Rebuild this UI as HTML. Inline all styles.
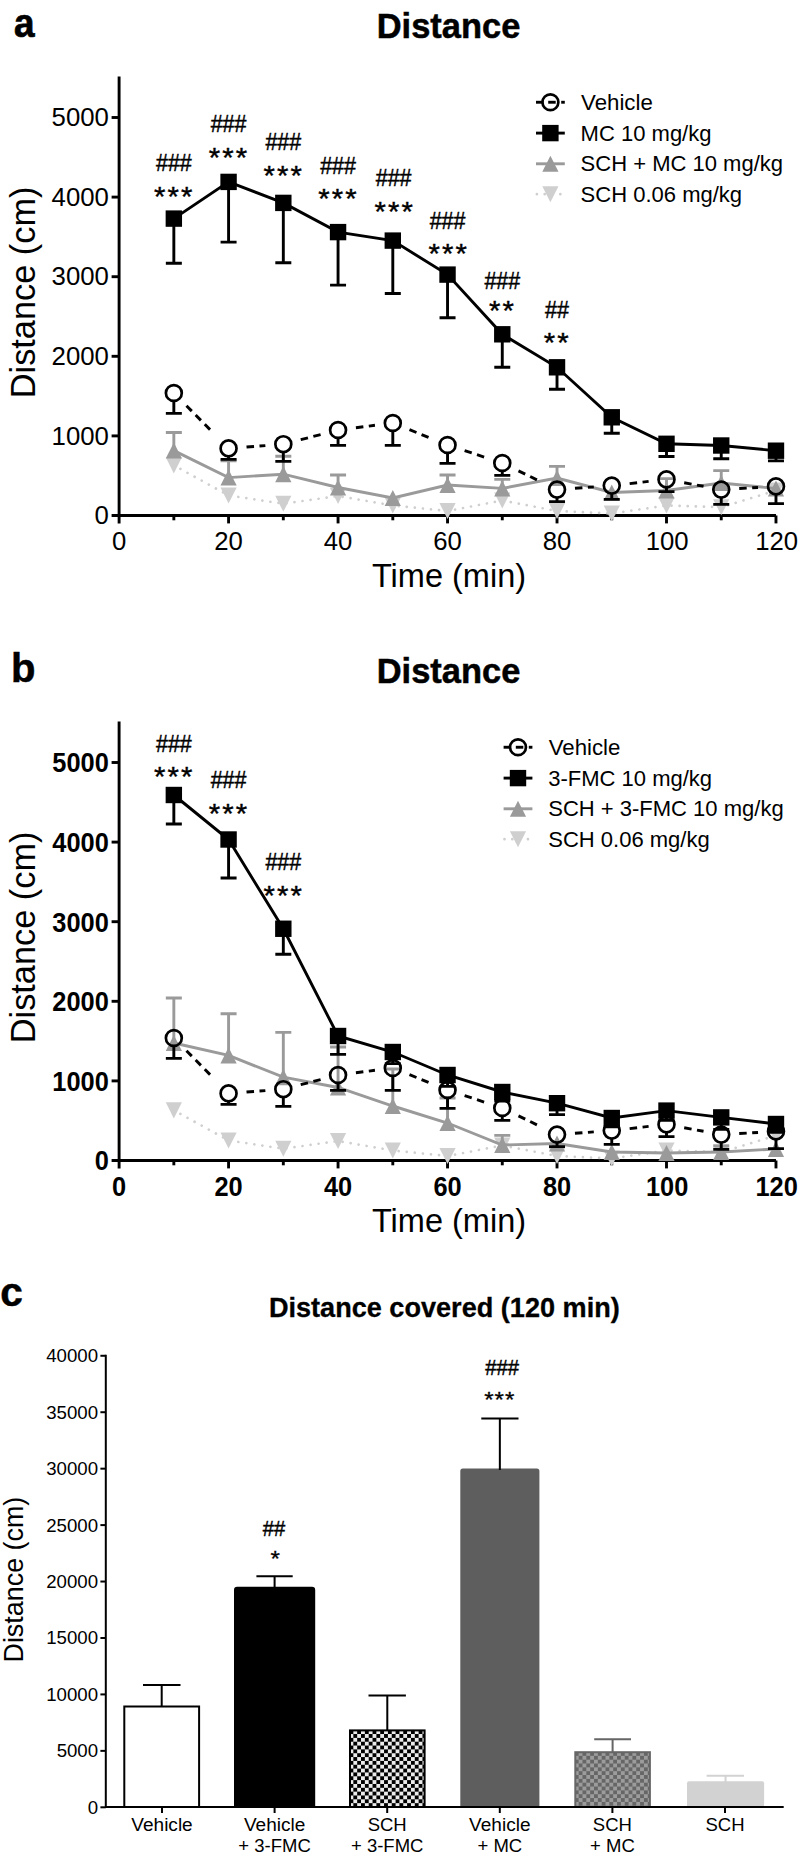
<!DOCTYPE html>
<html lang="en">
<head>
<meta charset="utf-8">
<title>Distance</title>
<style>
html,body{margin:0;padding:0;background:#fff;}
body{width:799px;height:1858px;overflow:hidden;}
svg{display:block;}
text{font-family:"Liberation Sans", Arial, Helvetica, sans-serif;}
</style>
</head>
<body>
<svg width="799" height="1858" viewBox="0 0 799 1858" font-family='"Liberation Sans", Arial, Helvetica, sans-serif' fill="#000">
<defs>
<pattern id="chk" width="7.68" height="7.68" patternUnits="userSpaceOnUse" x="349.5" y="1730.2">
<rect width="7.68" height="7.68" fill="#ebebeb"/><rect x="0" y="0" width="3.84" height="3.84" fill="#000"/><rect x="3.84" y="3.84" width="3.84" height="3.84" fill="#000"/>
</pattern>
<pattern id="chkg" width="7.68" height="7.68" patternUnits="userSpaceOnUse" x="574.8" y="1752">
<rect width="7.68" height="7.68" fill="#9c9c9c"/><rect x="0" y="0" width="3.84" height="3.84" fill="#666"/><rect x="3.84" y="3.84" width="3.84" height="3.84" fill="#666"/>
</pattern>
</defs>
<rect width="799" height="1858" fill="#fff"/>
<text transform="translate(14.00,36.90) scale(0.91,1)" font-weight="bold" font-size="40.6" stroke="#000" stroke-width="0.7">a</text>
<text transform="translate(10.90,681.90)" font-weight="bold" font-size="40.1" stroke="#000" stroke-width="0.5">b</text>
<text transform="translate(0.30,1306.15) scale(0.98,1)" font-weight="bold" font-size="41.4" stroke="#000" stroke-width="0.5">c</text>
<g id="panel-a">
<path d="M119.10,76.50V523.40M111.60,515.50H775.98" stroke="#000" stroke-width="2.9" fill="none"/>
<path d="M111.60,435.90H119.10" stroke="#000" stroke-width="2.9"/>
<path d="M111.60,356.30H119.10" stroke="#000" stroke-width="2.9"/>
<path d="M111.60,276.70H119.10" stroke="#000" stroke-width="2.9"/>
<path d="M111.60,197.10H119.10" stroke="#000" stroke-width="2.9"/>
<path d="M111.60,117.50H119.10" stroke="#000" stroke-width="2.9"/>
<path d="M173.84,515.50V520.30" stroke="#000" stroke-width="2.9"/>
<path d="M228.58,515.50V523.40" stroke="#000" stroke-width="2.9"/>
<path d="M283.32,515.50V520.30" stroke="#000" stroke-width="2.9"/>
<path d="M338.06,515.50V523.40" stroke="#000" stroke-width="2.9"/>
<path d="M392.80,515.50V520.30" stroke="#000" stroke-width="2.9"/>
<path d="M447.54,515.50V523.40" stroke="#000" stroke-width="2.9"/>
<path d="M502.28,515.50V520.30" stroke="#000" stroke-width="2.9"/>
<path d="M557.02,515.50V523.40" stroke="#000" stroke-width="2.9"/>
<path d="M611.76,515.50V520.30" stroke="#000" stroke-width="2.9"/>
<path d="M666.50,515.50V523.40" stroke="#000" stroke-width="2.9"/>
<path d="M721.24,515.50V520.30" stroke="#000" stroke-width="2.9"/>
<path d="M775.98,515.50V523.40" stroke="#000" stroke-width="2.9"/>
<polyline points="173.84,465.30 228.58,495.50 283.32,503.70 338.06,496.00 392.80,505.50 447.54,511.00 502.28,500.50 557.02,511.00 611.76,513.50 666.50,505.50 721.24,507.20 775.98,490.50" fill="none" stroke="#cfcfcf" stroke-width="2.7" stroke-linecap="round" stroke-dasharray="0.01 8.1" stroke-dashoffset="-7.5"/>
<polygon points="165.74,457.30 181.94,457.30 173.84,473.40" fill="#cfcfcf"/>
<polygon points="220.48,487.50 236.68,487.50 228.58,503.60" fill="#cfcfcf"/>
<polygon points="275.22,495.70 291.42,495.70 283.32,511.80" fill="#cfcfcf"/>
<polygon points="329.96,488.00 346.16,488.00 338.06,504.10" fill="#cfcfcf"/>
<polygon points="384.70,497.50 400.90,497.50 392.80,513.60" fill="#cfcfcf"/>
<polygon points="439.44,503.00 455.64,503.00 447.54,519.10" fill="#cfcfcf"/>
<polygon points="494.18,492.50 510.38,492.50 502.28,508.60" fill="#cfcfcf"/>
<polygon points="548.92,503.00 565.12,503.00 557.02,519.10" fill="#cfcfcf"/>
<polygon points="603.66,505.50 619.86,505.50 611.76,521.60" fill="#cfcfcf"/>
<polygon points="658.40,497.50 674.60,497.50 666.50,513.60" fill="#cfcfcf"/>
<polygon points="713.14,499.20 729.34,499.20 721.24,515.30" fill="#cfcfcf"/>
<polygon points="767.88,482.50 784.08,482.50 775.98,498.60" fill="#cfcfcf"/>
<path d="M173.84,450.60V432.50M165.84,432.50H181.84" stroke="#9a9a9a" stroke-width="2.9" fill="none"/>
<path d="M228.58,477.60V460.75M220.58,460.75H236.58" stroke="#9a9a9a" stroke-width="2.9" fill="none"/>
<path d="M283.32,474.20V456.20M275.32,456.20H291.32" stroke="#9a9a9a" stroke-width="2.9" fill="none"/>
<path d="M338.06,487.50V475.00M330.06,475.00H346.06" stroke="#9a9a9a" stroke-width="2.9" fill="none"/>
<path d="M447.54,485.00V475.00M439.54,475.00H455.54" stroke="#9a9a9a" stroke-width="2.9" fill="none"/>
<path d="M502.28,488.40V479.40M494.28,479.40H510.28" stroke="#9a9a9a" stroke-width="2.9" fill="none"/>
<path d="M557.02,478.00V466.40M549.02,466.40H565.02" stroke="#9a9a9a" stroke-width="2.9" fill="none"/>
<path d="M666.50,490.50V478.60M658.50,478.60H674.50" stroke="#9a9a9a" stroke-width="2.9" fill="none"/>
<path d="M721.24,483.00V470.60M713.24,470.60H729.24" stroke="#9a9a9a" stroke-width="2.9" fill="none"/>
<polyline points="173.84,450.60 228.58,477.60 283.32,474.20 338.06,487.50 392.80,498.00 447.54,485.00 502.28,488.40 557.02,478.00 611.76,492.50 666.50,490.50 721.24,483.00 775.98,488.50" fill="none" stroke="#9a9a9a" stroke-width="2.9"/>
<polygon points="165.74,458.60 181.94,458.60 173.84,442.50" fill="#9a9a9a"/>
<polygon points="220.48,485.60 236.68,485.60 228.58,469.50" fill="#9a9a9a"/>
<polygon points="275.22,482.20 291.42,482.20 283.32,466.10" fill="#9a9a9a"/>
<polygon points="329.96,495.50 346.16,495.50 338.06,479.40" fill="#9a9a9a"/>
<polygon points="384.70,506.00 400.90,506.00 392.80,489.90" fill="#9a9a9a"/>
<polygon points="439.44,493.00 455.64,493.00 447.54,476.90" fill="#9a9a9a"/>
<polygon points="494.18,496.40 510.38,496.40 502.28,480.30" fill="#9a9a9a"/>
<polygon points="548.92,486.00 565.12,486.00 557.02,469.90" fill="#9a9a9a"/>
<polygon points="603.66,500.50 619.86,500.50 611.76,484.40" fill="#9a9a9a"/>
<polygon points="658.40,498.50 674.60,498.50 666.50,482.40" fill="#9a9a9a"/>
<polygon points="713.14,491.00 729.34,491.00 721.24,474.90" fill="#9a9a9a"/>
<polygon points="767.88,496.50 784.08,496.50 775.98,480.40" fill="#9a9a9a"/>
<path d="M173.84,218.60V263.30M165.84,263.30H181.84" stroke="#000" stroke-width="2.9" fill="none"/>
<path d="M228.58,181.90V242.10M220.58,242.10H236.58" stroke="#000" stroke-width="2.9" fill="none"/>
<path d="M283.32,202.90V262.80M275.32,262.80H291.32" stroke="#000" stroke-width="2.9" fill="none"/>
<path d="M338.06,232.10V285.10M330.06,285.10H346.06" stroke="#000" stroke-width="2.9" fill="none"/>
<path d="M392.80,240.60V293.50M384.80,293.50H400.80" stroke="#000" stroke-width="2.9" fill="none"/>
<path d="M447.54,274.60V317.80M439.54,317.80H455.54" stroke="#000" stroke-width="2.9" fill="none"/>
<path d="M502.28,334.30V367.30M494.28,367.30H510.28" stroke="#000" stroke-width="2.9" fill="none"/>
<path d="M557.02,367.30V389.30M549.02,389.30H565.02" stroke="#000" stroke-width="2.9" fill="none"/>
<path d="M611.76,417.30V433.30M603.76,433.30H619.76" stroke="#000" stroke-width="2.9" fill="none"/>
<path d="M666.50,443.80V456.50M658.50,456.50H674.50" stroke="#000" stroke-width="2.9" fill="none"/>
<path d="M721.24,445.50V458.70M713.24,458.70H729.24" stroke="#000" stroke-width="2.9" fill="none"/>
<path d="M775.98,450.70V460.90M767.98,460.90H783.98" stroke="#000" stroke-width="2.9" fill="none"/>
<polyline points="173.84,218.60 228.58,181.90 283.32,202.90 338.06,232.10 392.80,240.60 447.54,274.60 502.28,334.30 557.02,367.30 611.76,417.30 666.50,443.80 721.24,445.50 775.98,450.70" fill="none" stroke="#000" stroke-width="2.9"/>
<rect x="165.64" y="210.40" width="16.4" height="16.4" fill="#000"/>
<rect x="220.38" y="173.70" width="16.4" height="16.4" fill="#000"/>
<rect x="275.12" y="194.70" width="16.4" height="16.4" fill="#000"/>
<rect x="329.86" y="223.90" width="16.4" height="16.4" fill="#000"/>
<rect x="384.60" y="232.40" width="16.4" height="16.4" fill="#000"/>
<rect x="439.34" y="266.40" width="16.4" height="16.4" fill="#000"/>
<rect x="494.08" y="326.10" width="16.4" height="16.4" fill="#000"/>
<rect x="548.82" y="359.10" width="16.4" height="16.4" fill="#000"/>
<rect x="603.56" y="409.10" width="16.4" height="16.4" fill="#000"/>
<rect x="658.30" y="435.60" width="16.4" height="16.4" fill="#000"/>
<rect x="713.04" y="437.30" width="16.4" height="16.4" fill="#000"/>
<rect x="767.78" y="442.50" width="16.4" height="16.4" fill="#000"/>
<path d="M186.49,405.80L191.76,411.14" stroke="#000" stroke-width="2.9"/>
<path d="M195.63,415.05L200.90,420.39" stroke="#000" stroke-width="2.9"/>
<path d="M204.77,424.30L210.04,429.63" stroke="#000" stroke-width="2.9"/>
<path d="M246.53,447.02L254.01,446.45" stroke="#000" stroke-width="2.9"/>
<path d="M259.49,446.03L265.37,445.58" stroke="#000" stroke-width="2.9"/>
<path d="M300.74,439.68L308.00,437.80" stroke="#000" stroke-width="2.9"/>
<path d="M313.33,436.42L320.59,434.53" stroke="#000" stroke-width="2.9"/>
<path d="M355.91,427.72L363.35,426.77" stroke="#000" stroke-width="2.9"/>
<path d="M368.81,426.07L374.95,425.28" stroke="#000" stroke-width="2.9"/>
<path d="M409.50,429.71L416.46,432.51" stroke="#000" stroke-width="2.9"/>
<path d="M421.56,434.56L428.52,437.36" stroke="#000" stroke-width="2.9"/>
<path d="M464.64,450.62L471.76,452.97" stroke="#000" stroke-width="2.9"/>
<path d="M476.99,454.68L484.11,457.03" stroke="#000" stroke-width="2.9"/>
<path d="M518.47,470.87L525.22,474.15" stroke="#000" stroke-width="2.9"/>
<path d="M530.16,476.55L536.91,479.83" stroke="#000" stroke-width="2.9"/>
<path d="M574.97,488.29L582.45,487.74" stroke="#000" stroke-width="2.9"/>
<path d="M587.94,487.34L593.81,486.91" stroke="#000" stroke-width="2.9"/>
<path d="M629.65,483.57L637.10,482.73" stroke="#000" stroke-width="2.9"/>
<path d="M642.56,482.11L648.61,481.43" stroke="#000" stroke-width="2.9"/>
<path d="M684.20,482.70L691.57,484.07" stroke="#000" stroke-width="2.9"/>
<path d="M696.98,485.08L703.54,486.30" stroke="#000" stroke-width="2.9"/>
<path d="M739.21,488.55L746.70,488.11" stroke="#000" stroke-width="2.9"/>
<path d="M752.19,487.79L758.01,487.45" stroke="#000" stroke-width="2.9"/>
<path d="M173.84,401.00V413.40M165.84,413.40H181.84" stroke="#000" stroke-width="2.9" fill="none"/>
<circle cx="173.84" cy="393.00" r="7.95" fill="none" stroke="#000" stroke-width="2.7"/>
<path d="M228.58,456.40V459.40M220.58,459.40H236.58" stroke="#000" stroke-width="2.9" fill="none"/>
<circle cx="228.58" cy="448.40" r="7.95" fill="none" stroke="#000" stroke-width="2.7"/>
<path d="M283.32,452.20V461.40M275.32,461.40H291.32" stroke="#000" stroke-width="2.9" fill="none"/>
<circle cx="283.32" cy="444.20" r="7.95" fill="none" stroke="#000" stroke-width="2.7"/>
<path d="M338.06,438.00V445.40M330.06,445.40H346.06" stroke="#000" stroke-width="2.9" fill="none"/>
<circle cx="338.06" cy="430.00" r="7.95" fill="none" stroke="#000" stroke-width="2.7"/>
<path d="M392.80,431.00V445.40M384.80,445.40H400.80" stroke="#000" stroke-width="2.9" fill="none"/>
<circle cx="392.80" cy="423.00" r="7.95" fill="none" stroke="#000" stroke-width="2.7"/>
<path d="M447.54,453.00V463.40M439.54,463.40H455.54" stroke="#000" stroke-width="2.9" fill="none"/>
<circle cx="447.54" cy="445.00" r="7.95" fill="none" stroke="#000" stroke-width="2.7"/>
<path d="M502.28,471.00V475.40M494.28,475.40H510.28" stroke="#000" stroke-width="2.9" fill="none"/>
<circle cx="502.28" cy="463.00" r="7.95" fill="none" stroke="#000" stroke-width="2.7"/>
<path d="M557.02,497.60V501.60M549.02,501.60H565.02" stroke="#000" stroke-width="2.9" fill="none"/>
<circle cx="557.02" cy="489.60" r="7.95" fill="none" stroke="#000" stroke-width="2.7"/>
<path d="M611.76,493.60V499.40M603.76,499.40H619.76" stroke="#000" stroke-width="2.9" fill="none"/>
<circle cx="611.76" cy="485.60" r="7.95" fill="none" stroke="#000" stroke-width="2.7"/>
<path d="M666.50,487.40V491.60M658.50,491.60H674.50" stroke="#000" stroke-width="2.9" fill="none"/>
<circle cx="666.50" cy="479.40" r="7.95" fill="none" stroke="#000" stroke-width="2.7"/>
<path d="M721.24,497.60V504.40M713.24,504.40H729.24" stroke="#000" stroke-width="2.9" fill="none"/>
<circle cx="721.24" cy="489.60" r="7.95" fill="none" stroke="#000" stroke-width="2.7"/>
<path d="M775.98,494.40V503.60M767.98,503.60H783.98" stroke="#000" stroke-width="2.9" fill="none"/>
<circle cx="775.98" cy="486.40" r="7.95" fill="none" stroke="#000" stroke-width="2.7"/>
<text transform="translate(108.90,524.10) scale(0.965,1)" text-anchor="end" font-size="26.7">0</text>
<text transform="translate(108.90,444.50) scale(0.965,1)" text-anchor="end" font-size="26.7">1000</text>
<text transform="translate(108.90,364.90) scale(0.965,1)" text-anchor="end" font-size="26.7">2000</text>
<text transform="translate(108.90,285.30) scale(0.965,1)" text-anchor="end" font-size="26.7">3000</text>
<text transform="translate(108.90,205.70) scale(0.965,1)" text-anchor="end" font-size="26.7">4000</text>
<text transform="translate(108.90,126.10) scale(0.965,1)" text-anchor="end" font-size="26.7">5000</text>
<text transform="translate(119.10,549.80) scale(0.968,1)" text-anchor="middle" font-size="26.6">0</text>
<text transform="translate(228.58,549.80) scale(0.968,1)" text-anchor="middle" font-size="26.6">20</text>
<text transform="translate(338.06,549.80) scale(0.968,1)" text-anchor="middle" font-size="26.6">40</text>
<text transform="translate(447.54,549.80) scale(0.968,1)" text-anchor="middle" font-size="26.6">60</text>
<text transform="translate(557.02,549.80) scale(0.968,1)" text-anchor="middle" font-size="26.6">80</text>
<text transform="translate(667.10,549.80) scale(0.968,1)" text-anchor="middle" font-size="26.6">100</text>
<text transform="translate(776.58,549.80) scale(0.968,1)" text-anchor="middle" font-size="26.6">120</text>
<text transform="translate(449.00,587.00)" text-anchor="middle" font-size="32.5">Time (min)</text>
<text transform="translate(35.20,292.40) rotate(-90) scale(0.992,1)" text-anchor="middle" font-size="34.6">Distance (cm)</text>
<text transform="translate(448.50,37.80) scale(0.985,1)" text-anchor="middle" font-weight="bold" font-size="35" stroke="#000" stroke-width="0.5">Distance</text>
<text transform="translate(173.84,171.45) scale(0.895,1)" text-anchor="middle" font-size="24" stroke="#000" stroke-width="0.45">###</text>
<text transform="translate(174.19,206.40) scale(1.07,1)" text-anchor="middle" font-size="27.3" stroke="#000" stroke-width="0.4" letter-spacing="2">***</text>
<text transform="translate(228.58,132.20) scale(0.895,1)" text-anchor="middle" font-size="24" stroke="#000" stroke-width="0.45">###</text>
<text transform="translate(228.93,166.65) scale(1.07,1)" text-anchor="middle" font-size="27.3" stroke="#000" stroke-width="0.4" letter-spacing="2">***</text>
<text transform="translate(283.32,149.70) scale(0.895,1)" text-anchor="middle" font-size="24" stroke="#000" stroke-width="0.45">###</text>
<text transform="translate(283.67,184.65) scale(1.07,1)" text-anchor="middle" font-size="27.3" stroke="#000" stroke-width="0.4" letter-spacing="2">***</text>
<text transform="translate(338.06,174.20) scale(0.895,1)" text-anchor="middle" font-size="24" stroke="#000" stroke-width="0.45">###</text>
<text transform="translate(338.41,208.40) scale(1.07,1)" text-anchor="middle" font-size="27.3" stroke="#000" stroke-width="0.4" letter-spacing="2">***</text>
<text transform="translate(393.60,186.45) scale(0.895,1)" text-anchor="middle" font-size="24" stroke="#000" stroke-width="0.45">###</text>
<text transform="translate(394.65,220.90) scale(1.07,1)" text-anchor="middle" font-size="27.3" stroke="#000" stroke-width="0.4" letter-spacing="2">***</text>
<text transform="translate(447.54,228.95) scale(0.895,1)" text-anchor="middle" font-size="24" stroke="#000" stroke-width="0.45">###</text>
<text transform="translate(448.79,263.40) scale(1.07,1)" text-anchor="middle" font-size="27.3" stroke="#000" stroke-width="0.4" letter-spacing="2">***</text>
<text transform="translate(502.28,288.95) scale(0.895,1)" text-anchor="middle" font-size="24" stroke="#000" stroke-width="0.45">###</text>
<text transform="translate(502.63,319.65) scale(1.07,1)" text-anchor="middle" font-size="27.3" stroke="#000" stroke-width="0.4" letter-spacing="2">**</text>
<text transform="translate(557.02,317.70) scale(0.895,1)" text-anchor="middle" font-size="24" stroke="#000" stroke-width="0.45">##</text>
<text transform="translate(557.37,352.15) scale(1.07,1)" text-anchor="middle" font-size="27.3" stroke="#000" stroke-width="0.4" letter-spacing="2">**</text>
<path d="M536.00,102.25H543.30" stroke="#000" stroke-width="2.9"/>
<path d="M548.20,102.25H555.70" stroke="#000" stroke-width="2.9"/>
<path d="M561.20,102.25H564.80" stroke="#000" stroke-width="2.9"/>
<circle cx="550.40" cy="102.25" r="7.95" fill="none" stroke="#000" stroke-width="2.7"/>
<path d="M536.00,133.10H564.80" stroke="#000" stroke-width="2.9"/>
<rect x="542.20" y="124.90" width="16.4" height="16.4" fill="#000"/>
<path d="M536.00,163.80H564.80" stroke="#9a9a9a" stroke-width="2.9"/>
<polygon points="542.30,171.80 558.50,171.80 550.40,155.70" fill="#9a9a9a"/>
<path d="M536.00,194.20H564.80" stroke="#cfcfcf" stroke-width="2.7" stroke-linecap="round" stroke-dasharray="0.01 7.8" stroke-dashoffset="-0.9"/>
<polygon points="542.30,186.20 558.50,186.20 550.40,202.30" fill="#cfcfcf"/>
<text transform="translate(581.10,109.70) scale(1.03,1)" font-size="21.6">Vehicle</text>
<text transform="translate(580.60,140.55) scale(1.02,1)" font-size="21.6">MC 10 mg/kg</text>
<text transform="translate(580.60,171.25) scale(1.02,1)" font-size="21.6">SCH + MC 10 mg/kg</text>
<text transform="translate(580.60,201.65) scale(1.02,1)" font-size="21.6">SCH 0.06 mg/kg</text>
</g>
<g id="panel-b">
<path d="M119.10,721.50V1168.40M111.60,1160.50H775.98" stroke="#000" stroke-width="2.9" fill="none"/>
<path d="M111.60,1080.90H119.10" stroke="#000" stroke-width="2.9"/>
<path d="M111.60,1001.30H119.10" stroke="#000" stroke-width="2.9"/>
<path d="M111.60,921.70H119.10" stroke="#000" stroke-width="2.9"/>
<path d="M111.60,842.10H119.10" stroke="#000" stroke-width="2.9"/>
<path d="M111.60,762.50H119.10" stroke="#000" stroke-width="2.9"/>
<path d="M173.84,1160.50V1165.30" stroke="#000" stroke-width="2.9"/>
<path d="M228.58,1160.50V1168.40" stroke="#000" stroke-width="2.9"/>
<path d="M283.32,1160.50V1165.30" stroke="#000" stroke-width="2.9"/>
<path d="M338.06,1160.50V1168.40" stroke="#000" stroke-width="2.9"/>
<path d="M392.80,1160.50V1165.30" stroke="#000" stroke-width="2.9"/>
<path d="M447.54,1160.50V1168.40" stroke="#000" stroke-width="2.9"/>
<path d="M502.28,1160.50V1165.30" stroke="#000" stroke-width="2.9"/>
<path d="M557.02,1160.50V1168.40" stroke="#000" stroke-width="2.9"/>
<path d="M611.76,1160.50V1165.30" stroke="#000" stroke-width="2.9"/>
<path d="M666.50,1160.50V1168.40" stroke="#000" stroke-width="2.9"/>
<path d="M721.24,1160.50V1165.30" stroke="#000" stroke-width="2.9"/>
<path d="M775.98,1160.50V1168.40" stroke="#000" stroke-width="2.9"/>
<polyline points="173.84,1110.30 228.58,1140.50 283.32,1148.70 338.06,1141.00 392.80,1150.50 447.54,1156.00 502.28,1145.50 557.02,1156.00 611.76,1158.50 666.50,1150.50 721.24,1152.20 775.98,1135.50" fill="none" stroke="#cfcfcf" stroke-width="2.7" stroke-linecap="round" stroke-dasharray="0.01 8.1" stroke-dashoffset="-7.5"/>
<polygon points="165.74,1102.30 181.94,1102.30 173.84,1118.40" fill="#cfcfcf"/>
<polygon points="220.48,1132.50 236.68,1132.50 228.58,1148.60" fill="#cfcfcf"/>
<polygon points="275.22,1140.70 291.42,1140.70 283.32,1156.80" fill="#cfcfcf"/>
<polygon points="329.96,1133.00 346.16,1133.00 338.06,1149.10" fill="#cfcfcf"/>
<polygon points="384.70,1142.50 400.90,1142.50 392.80,1158.60" fill="#cfcfcf"/>
<polygon points="439.44,1148.00 455.64,1148.00 447.54,1164.10" fill="#cfcfcf"/>
<polygon points="494.18,1137.50 510.38,1137.50 502.28,1153.60" fill="#cfcfcf"/>
<polygon points="548.92,1148.00 565.12,1148.00 557.02,1164.10" fill="#cfcfcf"/>
<polygon points="603.66,1150.50 619.86,1150.50 611.76,1166.60" fill="#cfcfcf"/>
<polygon points="658.40,1142.50 674.60,1142.50 666.50,1158.60" fill="#cfcfcf"/>
<polygon points="713.14,1144.20 729.34,1144.20 721.24,1160.30" fill="#cfcfcf"/>
<polygon points="767.88,1127.50 784.08,1127.50 775.98,1143.60" fill="#cfcfcf"/>
<path d="M173.84,1043.00V998.00M165.84,998.00H181.84" stroke="#9a9a9a" stroke-width="2.9" fill="none"/>
<path d="M228.58,1055.40V1013.75M220.58,1013.75H236.58" stroke="#9a9a9a" stroke-width="2.9" fill="none"/>
<path d="M283.32,1077.20V1032.40M275.32,1032.40H291.32" stroke="#9a9a9a" stroke-width="2.9" fill="none"/>
<path d="M338.06,1087.50V1047.00M330.06,1047.00H346.06" stroke="#9a9a9a" stroke-width="2.9" fill="none"/>
<path d="M392.80,1106.00V1069.00M384.80,1069.00H400.80" stroke="#9a9a9a" stroke-width="2.9" fill="none"/>
<path d="M447.54,1123.00V1098.00M439.54,1098.00H455.54" stroke="#9a9a9a" stroke-width="2.9" fill="none"/>
<path d="M502.28,1145.00V1135.40M494.28,1135.40H510.28" stroke="#9a9a9a" stroke-width="2.9" fill="none"/>
<path d="M721.24,1152.00V1146.00M713.24,1146.00H729.24" stroke="#9a9a9a" stroke-width="2.9" fill="none"/>
<polyline points="173.84,1043.00 228.58,1055.40 283.32,1077.20 338.06,1087.50 392.80,1106.00 447.54,1123.00 502.28,1145.00 557.02,1143.50 611.76,1152.00 666.50,1153.00 721.24,1152.00 775.98,1149.00" fill="none" stroke="#9a9a9a" stroke-width="2.9"/>
<polygon points="165.74,1051.00 181.94,1051.00 173.84,1034.90" fill="#9a9a9a"/>
<polygon points="220.48,1063.40 236.68,1063.40 228.58,1047.30" fill="#9a9a9a"/>
<polygon points="275.22,1085.20 291.42,1085.20 283.32,1069.10" fill="#9a9a9a"/>
<polygon points="329.96,1095.50 346.16,1095.50 338.06,1079.40" fill="#9a9a9a"/>
<polygon points="384.70,1114.00 400.90,1114.00 392.80,1097.90" fill="#9a9a9a"/>
<polygon points="439.44,1131.00 455.64,1131.00 447.54,1114.90" fill="#9a9a9a"/>
<polygon points="494.18,1153.00 510.38,1153.00 502.28,1136.90" fill="#9a9a9a"/>
<polygon points="548.92,1151.50 565.12,1151.50 557.02,1135.40" fill="#9a9a9a"/>
<polygon points="603.66,1160.00 619.86,1160.00 611.76,1143.90" fill="#9a9a9a"/>
<polygon points="658.40,1161.00 674.60,1161.00 666.50,1144.90" fill="#9a9a9a"/>
<polygon points="713.14,1160.00 729.34,1160.00 721.24,1143.90" fill="#9a9a9a"/>
<polygon points="767.88,1157.00 784.08,1157.00 775.98,1140.90" fill="#9a9a9a"/>
<path d="M173.84,795.00V824.00M165.84,824.00H181.84" stroke="#000" stroke-width="2.9" fill="none"/>
<path d="M228.58,839.50V878.00M220.58,878.00H236.58" stroke="#000" stroke-width="2.9" fill="none"/>
<path d="M283.32,928.75V954.25M275.32,954.25H291.32" stroke="#000" stroke-width="2.9" fill="none"/>
<path d="M338.06,1036.00V1054.40M330.06,1054.40H346.06" stroke="#000" stroke-width="2.9" fill="none"/>
<path d="M392.80,1052.00V1063.60M384.80,1063.60H400.80" stroke="#000" stroke-width="2.9" fill="none"/>
<path d="M447.54,1075.00V1086.40M439.54,1086.40H455.54" stroke="#000" stroke-width="2.9" fill="none"/>
<path d="M502.28,1092.00V1101.00M494.28,1101.00H510.28" stroke="#000" stroke-width="2.9" fill="none"/>
<path d="M557.02,1103.20V1114.60M549.02,1114.60H565.02" stroke="#000" stroke-width="2.9" fill="none"/>
<path d="M611.76,1118.00V1126.80M603.76,1126.80H619.76" stroke="#000" stroke-width="2.9" fill="none"/>
<path d="M666.50,1110.60V1120.40M658.50,1120.40H674.50" stroke="#000" stroke-width="2.9" fill="none"/>
<path d="M721.24,1117.40V1129.40M713.24,1129.40H729.24" stroke="#000" stroke-width="2.9" fill="none"/>
<path d="M775.98,1124.00V1132.30M767.98,1132.30H783.98" stroke="#000" stroke-width="2.9" fill="none"/>
<polyline points="173.84,795.00 228.58,839.50 283.32,928.75 338.06,1036.00 392.80,1052.00 447.54,1075.00 502.28,1092.00 557.02,1103.20 611.76,1118.00 666.50,1110.60 721.24,1117.40 775.98,1124.00" fill="none" stroke="#000" stroke-width="2.9"/>
<rect x="165.64" y="786.80" width="16.4" height="16.4" fill="#000"/>
<rect x="220.38" y="831.30" width="16.4" height="16.4" fill="#000"/>
<rect x="275.12" y="920.55" width="16.4" height="16.4" fill="#000"/>
<rect x="329.86" y="1027.80" width="16.4" height="16.4" fill="#000"/>
<rect x="384.60" y="1043.80" width="16.4" height="16.4" fill="#000"/>
<rect x="439.34" y="1066.80" width="16.4" height="16.4" fill="#000"/>
<rect x="494.08" y="1083.80" width="16.4" height="16.4" fill="#000"/>
<rect x="548.82" y="1095.00" width="16.4" height="16.4" fill="#000"/>
<rect x="603.56" y="1109.80" width="16.4" height="16.4" fill="#000"/>
<rect x="658.30" y="1102.40" width="16.4" height="16.4" fill="#000"/>
<rect x="713.04" y="1109.20" width="16.4" height="16.4" fill="#000"/>
<rect x="767.78" y="1115.80" width="16.4" height="16.4" fill="#000"/>
<path d="M186.49,1050.80L191.76,1056.14" stroke="#000" stroke-width="2.9"/>
<path d="M195.63,1060.05L200.90,1065.39" stroke="#000" stroke-width="2.9"/>
<path d="M204.77,1069.30L210.04,1074.63" stroke="#000" stroke-width="2.9"/>
<path d="M246.53,1092.02L254.01,1091.45" stroke="#000" stroke-width="2.9"/>
<path d="M259.49,1091.03L265.37,1090.58" stroke="#000" stroke-width="2.9"/>
<path d="M300.74,1084.68L308.00,1082.80" stroke="#000" stroke-width="2.9"/>
<path d="M313.33,1081.42L320.59,1079.53" stroke="#000" stroke-width="2.9"/>
<path d="M355.91,1072.72L363.35,1071.77" stroke="#000" stroke-width="2.9"/>
<path d="M368.81,1071.07L374.95,1070.28" stroke="#000" stroke-width="2.9"/>
<path d="M409.50,1074.71L416.46,1077.51" stroke="#000" stroke-width="2.9"/>
<path d="M421.56,1079.56L428.52,1082.36" stroke="#000" stroke-width="2.9"/>
<path d="M464.64,1095.62L471.76,1097.97" stroke="#000" stroke-width="2.9"/>
<path d="M476.99,1099.68L484.11,1102.03" stroke="#000" stroke-width="2.9"/>
<path d="M518.47,1115.87L525.22,1119.15" stroke="#000" stroke-width="2.9"/>
<path d="M530.16,1121.55L536.91,1124.83" stroke="#000" stroke-width="2.9"/>
<path d="M574.97,1133.29L582.45,1132.74" stroke="#000" stroke-width="2.9"/>
<path d="M587.94,1132.34L593.81,1131.91" stroke="#000" stroke-width="2.9"/>
<path d="M629.65,1128.57L637.10,1127.73" stroke="#000" stroke-width="2.9"/>
<path d="M642.56,1127.11L648.61,1126.43" stroke="#000" stroke-width="2.9"/>
<path d="M684.20,1127.70L691.57,1129.07" stroke="#000" stroke-width="2.9"/>
<path d="M696.98,1130.08L703.54,1131.30" stroke="#000" stroke-width="2.9"/>
<path d="M739.21,1133.55L746.70,1133.11" stroke="#000" stroke-width="2.9"/>
<path d="M752.19,1132.79L758.01,1132.45" stroke="#000" stroke-width="2.9"/>
<path d="M173.84,1046.00V1058.40M165.84,1058.40H181.84" stroke="#000" stroke-width="2.9" fill="none"/>
<circle cx="173.84" cy="1038.00" r="7.95" fill="none" stroke="#000" stroke-width="2.7"/>
<path d="M228.58,1101.40V1104.40M220.58,1104.40H236.58" stroke="#000" stroke-width="2.9" fill="none"/>
<circle cx="228.58" cy="1093.40" r="7.95" fill="none" stroke="#000" stroke-width="2.7"/>
<path d="M283.32,1097.20V1106.40M275.32,1106.40H291.32" stroke="#000" stroke-width="2.9" fill="none"/>
<circle cx="283.32" cy="1089.20" r="7.95" fill="none" stroke="#000" stroke-width="2.7"/>
<path d="M338.06,1083.00V1090.40M330.06,1090.40H346.06" stroke="#000" stroke-width="2.9" fill="none"/>
<circle cx="338.06" cy="1075.00" r="7.95" fill="none" stroke="#000" stroke-width="2.7"/>
<path d="M392.80,1076.00V1090.40M384.80,1090.40H400.80" stroke="#000" stroke-width="2.9" fill="none"/>
<circle cx="392.80" cy="1068.00" r="7.95" fill="none" stroke="#000" stroke-width="2.7"/>
<path d="M447.54,1098.00V1108.40M439.54,1108.40H455.54" stroke="#000" stroke-width="2.9" fill="none"/>
<circle cx="447.54" cy="1090.00" r="7.95" fill="none" stroke="#000" stroke-width="2.7"/>
<path d="M502.28,1116.00V1120.40M494.28,1120.40H510.28" stroke="#000" stroke-width="2.9" fill="none"/>
<circle cx="502.28" cy="1108.00" r="7.95" fill="none" stroke="#000" stroke-width="2.7"/>
<path d="M557.02,1142.60V1146.60M549.02,1146.60H565.02" stroke="#000" stroke-width="2.9" fill="none"/>
<circle cx="557.02" cy="1134.60" r="7.95" fill="none" stroke="#000" stroke-width="2.7"/>
<path d="M611.76,1138.60V1144.40M603.76,1144.40H619.76" stroke="#000" stroke-width="2.9" fill="none"/>
<circle cx="611.76" cy="1130.60" r="7.95" fill="none" stroke="#000" stroke-width="2.7"/>
<path d="M666.50,1132.40V1136.60M658.50,1136.60H674.50" stroke="#000" stroke-width="2.9" fill="none"/>
<circle cx="666.50" cy="1124.40" r="7.95" fill="none" stroke="#000" stroke-width="2.7"/>
<path d="M721.24,1142.60V1149.40M713.24,1149.40H729.24" stroke="#000" stroke-width="2.9" fill="none"/>
<circle cx="721.24" cy="1134.60" r="7.95" fill="none" stroke="#000" stroke-width="2.7"/>
<path d="M775.98,1139.40V1148.60M767.98,1148.60H783.98" stroke="#000" stroke-width="2.9" fill="none"/>
<circle cx="775.98" cy="1131.40" r="7.95" fill="none" stroke="#000" stroke-width="2.7"/>
<text transform="translate(108.80,1170.30) scale(0.917,1)" text-anchor="end" font-weight="bold" font-size="27.7">0</text>
<text transform="translate(108.80,1090.70) scale(0.917,1)" text-anchor="end" font-weight="bold" font-size="27.7">1000</text>
<text transform="translate(108.80,1011.10) scale(0.917,1)" text-anchor="end" font-weight="bold" font-size="27.7">2000</text>
<text transform="translate(108.80,931.50) scale(0.917,1)" text-anchor="end" font-weight="bold" font-size="27.7">3000</text>
<text transform="translate(108.80,851.90) scale(0.917,1)" text-anchor="end" font-weight="bold" font-size="27.7">4000</text>
<text transform="translate(108.80,772.30) scale(0.917,1)" text-anchor="end" font-weight="bold" font-size="27.7">5000</text>
<text transform="translate(119.10,1196.40) scale(0.917,1)" text-anchor="middle" font-weight="bold" font-size="27.7">0</text>
<text transform="translate(228.58,1196.40) scale(0.917,1)" text-anchor="middle" font-weight="bold" font-size="27.7">20</text>
<text transform="translate(338.06,1196.40) scale(0.917,1)" text-anchor="middle" font-weight="bold" font-size="27.7">40</text>
<text transform="translate(447.54,1196.40) scale(0.917,1)" text-anchor="middle" font-weight="bold" font-size="27.7">60</text>
<text transform="translate(557.02,1196.40) scale(0.917,1)" text-anchor="middle" font-weight="bold" font-size="27.7">80</text>
<text transform="translate(667.10,1196.40) scale(0.917,1)" text-anchor="middle" font-weight="bold" font-size="27.7">100</text>
<text transform="translate(776.58,1196.40) scale(0.917,1)" text-anchor="middle" font-weight="bold" font-size="27.7">120</text>
<text transform="translate(449.00,1232.00)" text-anchor="middle" font-size="32.5">Time (min)</text>
<text transform="translate(35.20,937.40) rotate(-90) scale(0.992,1)" text-anchor="middle" font-size="34.6">Distance (cm)</text>
<text transform="translate(448.50,682.80) scale(0.985,1)" text-anchor="middle" font-weight="bold" font-size="35" stroke="#000" stroke-width="0.5">Distance</text>
<text transform="translate(173.84,751.50) scale(0.895,1)" text-anchor="middle" font-size="24" stroke="#000" stroke-width="0.45">###</text>
<text transform="translate(174.19,785.90) scale(1.07,1)" text-anchor="middle" font-size="27.3" stroke="#000" stroke-width="0.4" letter-spacing="2">***</text>
<text transform="translate(228.58,788.45) scale(0.895,1)" text-anchor="middle" font-size="24" stroke="#000" stroke-width="0.45">###</text>
<text transform="translate(228.93,822.90) scale(1.07,1)" text-anchor="middle" font-size="27.3" stroke="#000" stroke-width="0.4" letter-spacing="2">***</text>
<text transform="translate(283.32,870.45) scale(0.895,1)" text-anchor="middle" font-size="24" stroke="#000" stroke-width="0.45">###</text>
<text transform="translate(283.67,905.15) scale(1.07,1)" text-anchor="middle" font-size="27.3" stroke="#000" stroke-width="0.4" letter-spacing="2">***</text>
<path d="M503.60,747.25H510.90" stroke="#000" stroke-width="2.9"/>
<path d="M515.80,747.25H523.30" stroke="#000" stroke-width="2.9"/>
<path d="M528.80,747.25H532.40" stroke="#000" stroke-width="2.9"/>
<circle cx="518.00" cy="747.25" r="7.95" fill="none" stroke="#000" stroke-width="2.7"/>
<path d="M503.60,778.10H532.40" stroke="#000" stroke-width="2.9"/>
<rect x="509.80" y="769.90" width="16.4" height="16.4" fill="#000"/>
<path d="M503.60,808.80H532.40" stroke="#9a9a9a" stroke-width="2.9"/>
<polygon points="509.90,816.80 526.10,816.80 518.00,800.70" fill="#9a9a9a"/>
<path d="M503.60,839.20H532.40" stroke="#cfcfcf" stroke-width="2.7" stroke-linecap="round" stroke-dasharray="0.01 7.8" stroke-dashoffset="-0.9"/>
<polygon points="509.90,831.20 526.10,831.20 518.00,847.30" fill="#cfcfcf"/>
<text transform="translate(548.70,754.70) scale(1.03,1)" font-size="21.6">Vehicle</text>
<text transform="translate(548.20,785.55) scale(1.02,1)" font-size="21.6">3-FMC 10 mg/kg</text>
<text transform="translate(548.20,816.25) scale(1.02,1)" font-size="21.6">SCH + 3-FMC 10 mg/kg</text>
<text transform="translate(548.20,846.65) scale(1.02,1)" font-size="21.6">SCH 0.06 mg/kg</text>
</g>
<g id="panel-c">
<text transform="translate(444.30,1317.40)" text-anchor="middle" font-weight="bold" font-size="27.1" stroke="#000" stroke-width="0.3">Distance covered (120 min)</text>
<text transform="translate(23.20,1579.60) rotate(-90)" text-anchor="middle" font-size="26.9">Distance (cm)</text>
<rect x="124.30" y="1706.50" width="74.80" height="100.50" fill="#fff" stroke="#000" stroke-width="2"/>
<path d="M161.70,1707.00V1685.10M143.00,1685.10H180.50" stroke="#000" stroke-width="2" fill="none"/>
<path d="M234.00,1807.00V1589.90Q234.00,1586.70 237.20,1586.70H312.00Q315.20,1586.70 315.20,1589.90V1807.00Z" fill="#000"/>
<path d="M274.60,1588.20V1576.20M256.40,1576.20H292.70" stroke="#000" stroke-width="2" fill="none"/>
<rect x="350.00" y="1730.40" width="74.60" height="76.60" fill="url(#chk)" stroke="#000" stroke-width="2"/>
<path d="M387.30,1730.90V1695.50M368.50,1695.50H405.90" stroke="#000" stroke-width="2" fill="none"/>
<path d="M460.30,1807.00V1471.00Q460.30,1468.50 462.80,1468.50H536.90Q539.40,1468.50 539.40,1471.00V1807.00Z" fill="#5e5e5e"/>
<path d="M499.85,1470.00V1418.50M481.30,1418.50H518.50" stroke="#000" stroke-width="2" fill="none"/>
<rect x="575.30" y="1752.20" width="74.60" height="54.80" fill="url(#chkg)" stroke="#666" stroke-width="2"/>
<path d="M612.60,1752.70V1739.20M594.20,1739.20H631.00" stroke="#666" stroke-width="2" fill="none"/>
<path d="M687.00,1807.00V1783.30Q687.00,1781.30 689.00,1781.30H762.10Q764.10,1781.30 764.10,1783.30V1807.00Z" fill="#d2d2d2"/>
<path d="M725.55,1782.80V1775.80M706.60,1775.80H744.00" stroke="#d2d2d2" stroke-width="2" fill="none"/>
<path d="M105.80,1354.78V1807.00M104.80,1807.00H783.7" stroke="#000" stroke-width="2" fill="none"/>
<path d="M100.40,1807.30H105.80" stroke="#000" stroke-width="2"/>
<text transform="translate(98.10,1813.70)" text-anchor="end" font-size="18.65">0</text>
<path d="M100.40,1750.86H105.80" stroke="#000" stroke-width="2"/>
<text transform="translate(98.10,1757.26)" text-anchor="end" font-size="18.65">5000</text>
<path d="M100.40,1694.42H105.80" stroke="#000" stroke-width="2"/>
<text transform="translate(98.10,1700.82)" text-anchor="end" font-size="18.65">10000</text>
<path d="M100.40,1637.98H105.80" stroke="#000" stroke-width="2"/>
<text transform="translate(98.10,1644.38)" text-anchor="end" font-size="18.65">15000</text>
<path d="M100.40,1581.54H105.80" stroke="#000" stroke-width="2"/>
<text transform="translate(98.10,1587.94)" text-anchor="end" font-size="18.65">20000</text>
<path d="M100.40,1525.10H105.80" stroke="#000" stroke-width="2"/>
<text transform="translate(98.10,1531.50)" text-anchor="end" font-size="18.65">25000</text>
<path d="M100.40,1468.66H105.80" stroke="#000" stroke-width="2"/>
<text transform="translate(98.10,1475.06)" text-anchor="end" font-size="18.65">30000</text>
<path d="M100.40,1412.22H105.80" stroke="#000" stroke-width="2"/>
<text transform="translate(98.10,1418.62)" text-anchor="end" font-size="18.65">35000</text>
<path d="M100.40,1355.78H105.80" stroke="#000" stroke-width="2"/>
<text transform="translate(98.10,1362.18)" text-anchor="end" font-size="18.65">40000</text>
<path d="M162.00,1807.00V1813.00" stroke="#000" stroke-width="2"/>
<text transform="translate(162.00,1831.30) scale(1.03,1)" text-anchor="middle" font-size="18.5">Vehicle</text>
<path d="M274.60,1807.00V1813.00" stroke="#000" stroke-width="2"/>
<text transform="translate(274.60,1831.30) scale(1.03,1)" text-anchor="middle" font-size="18.5">Vehicle</text>
<text transform="translate(274.60,1851.80)" text-anchor="middle" font-size="18.5">+ 3-FMC</text>
<path d="M387.20,1807.00V1813.00" stroke="#000" stroke-width="2"/>
<text transform="translate(387.20,1831.30)" text-anchor="middle" font-size="18.5">SCH</text>
<text transform="translate(387.20,1851.80)" text-anchor="middle" font-size="18.5">+ 3-FMC</text>
<path d="M499.80,1807.00V1813.00" stroke="#000" stroke-width="2"/>
<text transform="translate(499.80,1831.30) scale(1.03,1)" text-anchor="middle" font-size="18.5">Vehicle</text>
<text transform="translate(499.80,1851.80)" text-anchor="middle" font-size="18.5">+ MC</text>
<path d="M612.40,1807.00V1813.00" stroke="#000" stroke-width="2"/>
<text transform="translate(612.40,1831.30)" text-anchor="middle" font-size="18.5">SCH</text>
<text transform="translate(612.40,1851.80)" text-anchor="middle" font-size="18.5">+ MC</text>
<path d="M725.00,1807.00V1813.00" stroke="#000" stroke-width="2"/>
<text transform="translate(725.00,1831.30)" text-anchor="middle" font-size="18.5">SCH</text>
<text transform="translate(274.05,1536.20) scale(0.895,1)" text-anchor="middle" font-size="22.6" stroke="#000" stroke-width="0.45">##</text>
<text transform="translate(275.75,1565.90) scale(1.07,1)" text-anchor="middle" font-size="22.6" stroke="#000" stroke-width="0.3" letter-spacing="0.9">*</text>
<text transform="translate(502.10,1375.40) scale(0.895,1)" text-anchor="middle" font-size="22.6" stroke="#000" stroke-width="0.45">###</text>
<text transform="translate(499.80,1406.70) scale(1.07,1)" text-anchor="middle" font-size="22.6" stroke="#000" stroke-width="0.3" letter-spacing="0.9">***</text>
</g>
</svg>
</body>
</html>
